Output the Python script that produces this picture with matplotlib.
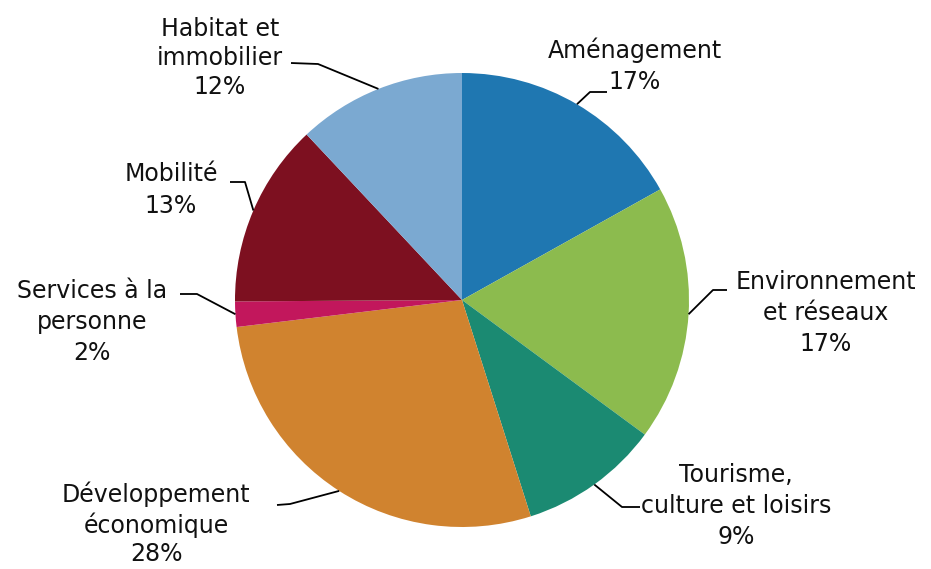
import numpy as np
import matplotlib
matplotlib.use("Agg")
import matplotlib.pyplot as plt

# ---------------------------------------------------------------------------
# Data (shares; printed labels as in the source)
# ---------------------------------------------------------------------------
CATEGORIES = [
    "Aménagement", "Environnement\net réseaux", "Tourisme,\nculture et loisirs",
    "Développement\néconomique", "Services à la\npersonne", "Mobilité",
    "Habitat et\nimmobilier",
]
SHARES = [16.9, 18.2, 10.0, 28.0, 1.8, 13.1, 12.0]
PCT_LABELS = ["17%", "17%", "9%", "28%", "2%", "13%", "12%"]
COLORS = ["#1f77b1", "#8cbb4e", "#1b8a72", "#d0832f", "#c2175c", "#7d1020", "#7ba9d1"]

# label block centre (px), line spacing and leader elbow/end points (px, image coords)
LABEL_POS = [(635, 66), (826, 313), (736, 506), (156, 524), (92, 322), (171, 190), (220, 58)]
LINE_SP = [1.38, 1.38, 1.38, 1.24, 1.38, 1.38, 1.24]
LEADERS = [
    [(590, 92), (607, 92)],
    [(713, 290), (727, 290)],
    [(622, 507), (640, 507)],
    [(290, 504), (277, 505)],
    [(197, 294), (180, 294)],
    [(245, 182), (230, 182)],
    [(318, 64), (291, 63)],
]

W, H = 931, 569
CX, CY, R = 462, H - 300, 227

fig = plt.figure(figsize=(W / 100, H / 100), dpi=100)
ax = fig.add_axes([0, 0, 1, 1])

wedges, _ = ax.pie(SHARES, colors=COLORS, startangle=90, counterclock=False,
                   center=(CX, CY), radius=R, frame=True,
                   wedgeprops=dict(linewidth=0))
ax.set_xlim(0, W)
ax.set_ylim(0, H)
ax.set_aspect("equal")
ax.axis("off")

for w, cat, pct, (lx, ly), ls, pts in zip(wedges, CATEGORIES, PCT_LABELS, LABEL_POS, LINE_SP, LEADERS):
    mid = np.deg2rad((w.theta1 + w.theta2) / 2)
    sx, sy = CX + R * np.cos(mid), CY + R * np.sin(mid)
    xs = [sx] + [p[0] for p in pts]
    ys = [sy] + [H - p[1] for p in pts]
    ax.plot(xs, ys, color="black", lw=1.3, solid_capstyle="butt")
    ax.text(lx, H - ly, f"{cat}\n{pct}", ha="center", va="center",
            fontsize=17, linespacing=ls, color="#111111")

fig.savefig("out.png", dpi=100)
